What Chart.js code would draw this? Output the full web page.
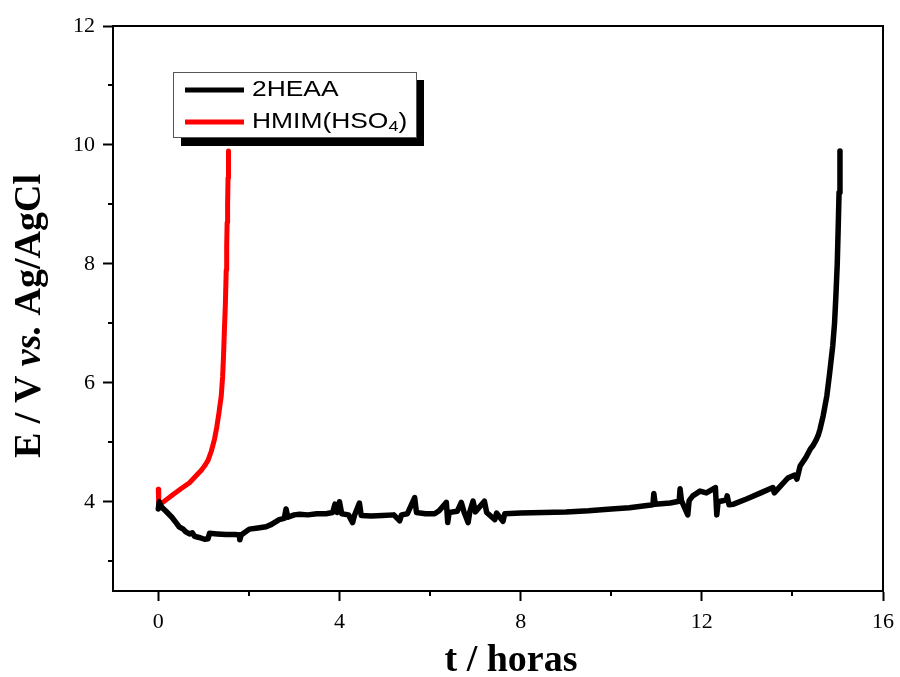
<!DOCTYPE html>
<html>
<head>
<meta charset="utf-8">
<script src="https://cdn.jsdelivr.net/npm/chart.js@4.4.1/dist/chart.umd.min.js"></script>
<style>
    html, body { margin: 0; padding: 0; background: #fff; }
    #wrap { width: 900px; height: 677px; }
</style>
</head>
<body>
<div id="wrap"><canvas id="potChart"></canvas></div>
<script>
// 2HEAA: time (h) and potential (V vs. Ag/AgCl)
const heaaTime = [0.0, 0.02, 0.06, 0.17, 0.3, 0.4, 0.46, 0.55, 0.6, 0.69, 0.75, 0.8, 0.9, 1.02, 1.1, 1.13, 1.3, 1.5, 1.7, 1.79, 1.8, 1.83,
    2.01, 2.2, 2.38, 2.5, 2.67, 2.78, 2.82, 2.86, 3.0, 3.12, 3.3, 3.5, 3.7, 3.85, 3.9, 3.95, 4.0, 4.05, 4.2, 4.29, 4.33, 4.44, 4.48,
    4.7, 4.95, 5.2, 5.33, 5.37, 5.5, 5.66, 5.7, 5.9, 6.1, 6.2, 6.36, 6.39, 6.42, 6.6, 6.69, 6.75, 6.84, 6.88, 6.95, 7.0, 7.2, 7.25,
    7.43, 7.47, 7.61, 7.65, 8.0, 8.5, 9.0, 9.5, 10.0, 10.4, 10.92, 10.94, 10.97, 11.3, 11.5, 11.52, 11.55, 11.69, 11.72, 11.8,
    11.96, 12.1, 12.3, 12.33, 12.36, 12.54, 12.56, 12.6, 12.7, 13.0, 13.3, 13.57, 13.6, 13.72, 13.9, 14.05, 14.1, 14.17, 14.3, 14.39,
    14.46, 14.53, 14.57, 14.61, 14.68, 14.76, 14.82, 14.89, 14.93, 14.96, 14.99, 15.01, 15.03, 15.05];
const heaaPotential = [3.88, 4.0, 3.92, 3.84, 3.74, 3.64, 3.58, 3.54, 3.5, 3.46, 3.48, 3.42, 3.4, 3.37, 3.38, 3.47, 3.46, 3.45, 3.45, 3.44, 3.36, 3.44,
    3.54, 3.56, 3.58, 3.62, 3.7, 3.72, 3.88, 3.74, 3.78, 3.79, 3.78, 3.8, 3.8, 3.82, 3.96, 3.82, 4.0, 3.8, 3.78, 3.65, 3.77, 3.98, 3.77,
    3.76, 3.77, 3.78, 3.68, 3.78, 3.8, 4.07, 3.82, 3.8, 3.8, 3.85, 3.99, 3.65, 3.82, 3.84, 3.99, 3.83, 3.65, 3.84, 4.01, 3.83, 4.01, 3.82,
    3.7, 3.81, 3.67, 3.8, 3.81, 3.82, 3.83, 3.85, 3.88, 3.9, 3.95, 4.14, 3.96, 3.98, 4.01, 4.22, 4.02, 3.78, 4.02, 4.1,
    4.18, 4.15, 4.24, 3.78, 4.0, 4.03, 4.1, 3.95, 3.96, 4.05, 4.15, 4.24, 4.15, 4.25, 4.4, 4.45, 4.38, 4.6, 4.75, 4.88,
    4.95, 5.05, 5.12, 5.22, 5.45, 5.78, 6.15, 6.62, 7.0, 7.46, 8.0, 8.58, 9.2, 9.9];

// HMIM(HSO4): time (h) and potential (V vs. Ag/AgCl)
const hmimTime = [0.0, 0.01, 0.1, 0.32, 0.5, 0.69, 0.85, 0.95, 1.02, 1.1, 1.17, 1.24, 1.29, 1.34, 1.39, 1.42, 1.44, 1.46, 1.48, 1.5,
    1.51, 1.52, 1.53, 1.54, 1.55];
const hmimPotential = [4.21, 3.93, 3.99, 4.12, 4.22, 4.32, 4.45, 4.53, 4.6, 4.7, 4.85, 5.05, 5.25, 5.5, 5.78, 6.1, 6.45, 6.9, 7.3, 7.9,
    8.3, 8.7, 9.0, 9.45, 9.9];

const seriesLabels = ['2HEAA', 'HMIM(HSO₄)'];
const seriesColors = ['#000000', '#ff0000'];

// axis ticks (major ones get labels)
const xTicks = [0, 2, 4, 6, 8, 10, 12, 14, 16];
const xMajor = [0, 4, 8, 12, 16];
const yTicks = [3, 4, 5, 6, 7, 8, 9, 10, 11, 12];
const yMajor = [4, 6, 8, 10, 12];

const serif = '"Liberation Serif", "Times New Roman", serif';
const sans = '"Liberation Sans", Arial, sans-serif';

function toPoints(xs, ys) {
    return xs.map((x, i) => ({ x: x, y: ys[i] }));
}

// frame on top/right, minor ticks, axis titles and the boxed legend
const decorPlugin = {
    id: 'decor',
    afterDraw(chart) {
        const ctx = chart.ctx;
        const area = chart.chartArea;
        const xs = chart.scales.x;
        const ys = chart.scales.y;
        ctx.save();

        // top and right frame lines
        ctx.strokeStyle = '#000';
        ctx.lineWidth = 2;
        ctx.beginPath();
        ctx.moveTo(area.left, area.top);
        ctx.lineTo(area.right, area.top);
        ctx.lineTo(area.right, area.bottom);
        ctx.stroke();

        // minor ticks
        ctx.beginPath();
        xTicks.filter(v => !xMajor.includes(v)).forEach(v => {
            const px = Math.round(xs.getPixelForValue(v));
            ctx.moveTo(px, area.bottom);
            ctx.lineTo(px, area.bottom + 5);
        });
        yTicks.filter(v => !yMajor.includes(v)).forEach(v => {
            const py = Math.round(ys.getPixelForValue(v));
            ctx.moveTo(area.left, py);
            ctx.lineTo(area.left - 5, py);
        });
        ctx.stroke();

        // x title
        ctx.fillStyle = '#000';
        ctx.textAlign = 'center';
        ctx.textBaseline = 'alphabetic';
        ctx.font = 'bold 38px ' + serif;
        ctx.fillText('t / horas', 511, 671);

        // y title, with italic "vs."
        const parts = [
            { text: 'E / V ', font: 'bold 38px ' + serif },
            { text: 'vs.', font: 'italic bold 38px ' + serif },
            { text: ' Ag/AgCl', font: 'bold 38px ' + serif }
        ];
        let total = 0;
        parts.forEach(p => { ctx.font = p.font; p.w = ctx.measureText(p.text).width; total += p.w; });
        ctx.translate(40, 316);
        ctx.rotate(-Math.PI / 2);
        ctx.textAlign = 'left';
        let cx = -total / 2;
        parts.forEach(p => {
            ctx.font = p.font;
            ctx.fillText(p.text, cx, 0);
            cx += p.w;
        });
        ctx.setTransform(1, 0, 0, 1, 0, 0);

        // legend box with drop shadow
        const box = { x: 173, y: 72, w: 243, h: 65 };
        ctx.fillStyle = '#000';
        ctx.fillRect(box.x + 8, box.y + box.h, box.w, 9);
        ctx.fillRect(box.x + box.w, box.y + 8, 8, box.h + 1);
        ctx.fillStyle = '#fff';
        ctx.fillRect(box.x, box.y, box.w, box.h);
        ctx.strokeStyle = '#555';
        ctx.lineWidth = 1;
        ctx.strokeRect(box.x + 0.5, box.y + 0.5, box.w, box.h);

        chart.data.datasets.forEach((ds, i) => {
            const ly = 90 + i * 32;
            ctx.strokeStyle = ds.borderColor;
            ctx.lineWidth = 5;
            ctx.beginPath();
            ctx.moveTo(185, ly);
            ctx.lineTo(244, ly);
            ctx.stroke();

            // legend text is a little wide in the original, so stretch it
            const stretch = 1.2;
            ctx.save();
            ctx.translate(252, ly);
            ctx.scale(stretch, 1);
            ctx.fillStyle = '#000';
            ctx.textAlign = 'left';
            ctx.textBaseline = 'middle';
            let tx = 0;
            const pieces = ds.label.split('₄');
            pieces.forEach((piece, k) => {
                ctx.font = '22px ' + sans;
                ctx.fillText(piece, tx, 0);
                tx += ctx.measureText(piece).width;
                if (k < pieces.length - 1) {
                    ctx.font = '15px ' + sans;
                    ctx.fillText('4', tx, 5);
                    tx += ctx.measureText('4').width;
                }
            });
            ctx.restore();
        });

        ctx.restore();
    }
};

new Chart(document.getElementById('potChart'), {
    type: 'scatter',
    data: {
        datasets: [
            {
                label: seriesLabels[0],
                data: toPoints(heaaTime, heaaPotential),
                borderColor: seriesColors[0],
                backgroundColor: seriesColors[0],
                showLine: true,
                borderWidth: 5.5,
                pointRadius: 0,
                tension: 0,
                borderJoinStyle: 'round',
                borderCapStyle: 'round'
            },
            {
                label: seriesLabels[1],
                data: toPoints(hmimTime, hmimPotential),
                borderColor: seriesColors[1],
                backgroundColor: seriesColors[1],
                showLine: true,
                borderWidth: 5,
                pointRadius: 0,
                tension: 0,
                borderJoinStyle: 'round',
                borderCapStyle: 'round'
            }
        ]
    },
    options: {
        responsive: true,
        maintainAspectRatio: false,
        animation: false,
        layout: { padding: { left: 0, right: 17, top: 26, bottom: 0 } },
        plugins: {
            legend: { display: false },
            tooltip: { enabled: false }
        },
        scales: {
            x: {
                type: 'linear',
                min: -1,
                max: 16,
                afterBuildTicks: scale => { scale.ticks = xTicks.map(v => ({ value: v })); },
                afterFit: scale => { scale.height = 86; },
                border: { display: true, color: '#000', width: 2 },
                grid: {
                    drawOnChartArea: false,
                    tickLength: 10,
                    tickWidth: 2,
                    tickColor: c => (c.tick && xMajor.includes(c.tick.value)) ? '#000' : 'rgba(0,0,0,0)'
                },
                ticks: {
                    color: '#000',
                    padding: 5,
                    maxRotation: 0,
                    autoSkip: false,
                    font: { family: serif, size: 22, lineHeight: 1.5 },
                    callback: v => xMajor.includes(v) ? String(v) : ''
                }
            },
            y: {
                type: 'linear',
                min: 2.5,
                max: 12,
                afterBuildTicks: scale => { scale.ticks = yTicks.map(v => ({ value: v })); },
                afterFit: scale => { scale.width = 113; },
                border: { display: true, color: '#000', width: 2 },
                grid: {
                    drawOnChartArea: false,
                    tickLength: 10,
                    tickWidth: 2,
                    tickColor: c => (c.tick && yMajor.includes(c.tick.value)) ? '#000' : 'rgba(0,0,0,0)'
                },
                ticks: {
                    color: '#000',
                    padding: 8,
                    autoSkip: false,
                    font: { family: serif, size: 22 },
                    callback: v => yMajor.includes(v) ? String(v) : ''
                }
            }
        }
    },
    plugins: [decorPlugin]
});
</script>
</body>
</html>
